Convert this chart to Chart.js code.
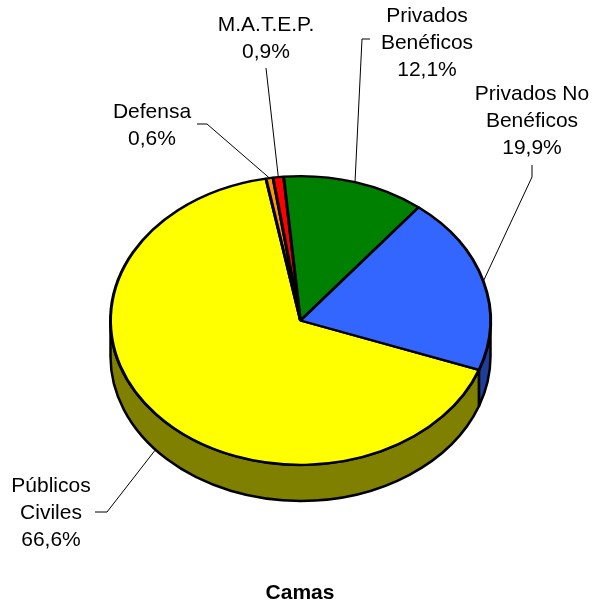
<!DOCTYPE html>
<html lang="es">
<head>
    <meta charset="UTF-8">
    <title>Camas</title>
    <script src="https://cdn.jsdelivr.net/npm/chart.js@4"></script>
    <style>
        body {
            margin: 0;
            background-color: #ffffff;
        }

        canvas {
            display: block;
        }
    </style>
</head>
<body>
    <canvas id="camasChart" width="592" height="603"></canvas>

    <script>
        // Datos del gráfico
        const categorias = ['Públicos Civiles', 'Defensa', 'M.A.T.E.P.', 'Privados Benéficos', 'Privados No Benéficos'];
        const porcentajes = [66.6, 0.6, 0.9, 12.1, 19.9];
        const lineasEtiqueta = [['Públicos', 'Civiles'], ['Defensa'], ['M.A.T.E.P.'], ['Privados', 'Benéficos'], ['Privados No', 'Benéficos']];
        const titulo = 'Camas';

        // Colores: cara superior y lateral
        const coloresTapa = ['#ffff00', '#ff9900', '#ff0000', '#008000', '#3366ff'];
        const coloresLado = ['#808000', '#804c00', '#800000', '#004000', '#1f3d99'];

        // Posición de las etiquetas (centro x, primera línea base y) y guías
        const posEtiquetas = [
            { x: 51, y: 492 },
            { x: 152, y: 118 },
            { x: 266, y: 31 },
            { x: 427, y: 22 },
            { x: 532, y: 100 }
        ];
        const guias = [
            [[95, 512], [107, 512]],
            [[197, 124], [207, 124]],
            [[266, 68]],
            [[370, 39], [362, 39]],
            [[532, 165], [532, 177]]
        ];

        const achatado = 0.76;     // relación alto/ancho de la elipse
        const profundidad = 36;    // grosor del pastel
        const fuente = '"Liberation Sans", Arial, sans-serif';

        const pastel3D = {
            id: 'pastel3D',
            beforeDatasetsDraw(chart) {
                const ctx = chart.ctx;
                const arcos = chart.getDatasetMeta(0).data;
                const cx = arcos[0].x;
                const cy = arcos[0].y;
                const rx = arcos[0].outerRadius;
                const ry = rx * achatado;

                // lateral visible (mitad delantera)
                ctx.save();
                ctx.lineWidth = 2.5;
                ctx.strokeStyle = '#000000';
                ctx.lineJoin = 'round';
                arcos.forEach((arco, i) => {
                    [-2 * Math.PI, 0, 2 * Math.PI].forEach(d => {
                        const a = Math.max(arco.startAngle + d, 0);
                        const b = Math.min(arco.endAngle + d, Math.PI);
                        if (b <= a) return;
                        ctx.beginPath();
                        ctx.ellipse(cx, cy, rx, ry, 0, a, b);
                        ctx.ellipse(cx, cy + profundidad, rx, ry, 0, b, a, true);
                        ctx.closePath();
                        ctx.fillStyle = coloresLado[i];
                        ctx.fill();
                        ctx.stroke();
                    });
                });
                ctx.restore();

                // cara superior achatada
                ctx.save();
                ctx.translate(cx, cy);
                ctx.scale(1, achatado);
                ctx.translate(-cx, -cy);
            },
            afterDatasetsDraw(chart) {
                const ctx = chart.ctx;
                ctx.restore();

                const arcos = chart.getDatasetMeta(0).data;
                const cx = arcos[0].x;
                const cy = arcos[0].y;
                const rx = arcos[0].outerRadius;
                const ry = rx * achatado;

                ctx.save();
                ctx.fillStyle = '#000000';
                ctx.strokeStyle = '#000000';
                ctx.lineWidth = 1;
                ctx.font = '21px ' + fuente;
                ctx.textAlign = 'center';
                ctx.textBaseline = 'alphabetic';

                arcos.forEach((arco, i) => {
                    const medio = (arco.startAngle + arco.endAngle) / 2;
                    let px = cx + rx * Math.cos(medio);
                    let py = cy + ry * Math.sin(medio);
                    if (Math.sin(medio) > 0) py += profundidad;

                    const puntos = guias[i].concat([[px, py]]);
                    ctx.beginPath();
                    ctx.moveTo(puntos[0][0], puntos[0][1]);
                    puntos.slice(1).forEach(p => ctx.lineTo(p[0], p[1]));
                    ctx.stroke();

                    const lineas = lineasEtiqueta[i].concat([porcentajes[i].toFixed(1).replace('.', ',') + '%']);
                    lineas.forEach((texto, j) => {
                        ctx.fillText(texto, posEtiquetas[i].x, posEtiquetas[i].y + j * 27);
                    });
                });

                ctx.font = 'bold 21px ' + fuente;
                ctx.fillText(titulo, 300, 599);
                ctx.restore();
            }
        };

        new Chart(document.getElementById('camasChart').getContext('2d'), {
            type: 'pie',
            data: {
                labels: categorias,
                datasets: [{
                    data: porcentajes,
                    backgroundColor: coloresTapa,
                    borderColor: '#000000',
                    borderWidth: 3
                }]
            },
            options: {
                responsive: false,
                animation: false,
                rotation: 110,
                layout: {
                    padding: { left: 109, right: 100, top: 129, bottom: 91 }
                },
                plugins: {
                    legend: { display: false },
                    tooltip: { enabled: false }
                }
            },
            plugins: [pastel3D]
        });
    </script>
</body>
</html>
